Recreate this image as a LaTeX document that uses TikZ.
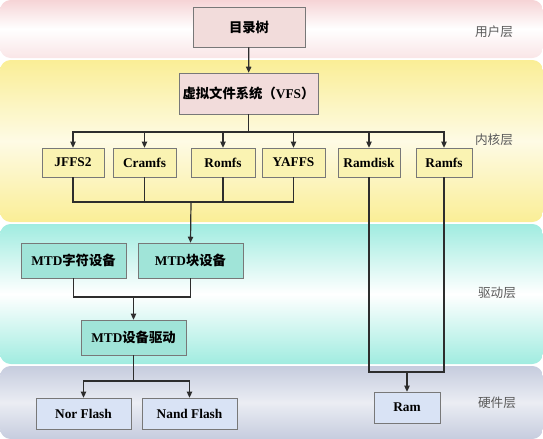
\documentclass[tikz,border=0pt]{standalone}
\usepackage{fontspec}
\setmainfont{Liberation Serif}
\newfontfamily\cjk{Noto Sans CJK SC}
\usetikzlibrary{arrows.meta, positioning}
\definecolor{linedark}{RGB}{45, 45, 45}
\definecolor{boxedge}{RGB}{120, 120, 120}
\definecolor{pinkbox}{RGB}{242, 220, 219}
\definecolor{yellowbox}{RGB}{250, 243, 178}
\definecolor{tealbox}{RGB}{160, 228, 216}
\definecolor{bluebox}{RGB}{217, 227, 245}
\definecolor{pinkband}{RGB}{246, 212, 214}
\definecolor{yellowband}{RGB}{250, 238, 150}
\definecolor{tealband}{RGB}{160, 236, 224}
\definecolor{grayband}{RGB}{198, 204, 222}
\definecolor{layertext}{RGB}{90, 90, 90}

\begin{document}
\begin{tikzpicture}[x=0.75pt, y=-0.75pt,
        box/.style={draw=boxedge, thin, inner sep=0pt, minimum height=21.75pt, align=center, font=\bfseries\fontsize{10}{12}\selectfont},
        band/.style={rounded corners=8pt},
        layername/.style={font=\cjk\fontsize{9.5}{11}\selectfont, text=layertext},
        arrow/.style={line width=0.9pt, -{Triangle[width=4pt, length=4.5pt]}, draw=linedark},
        link/.style={line width=0.9pt, draw=linedark}
    ]
        \useasboundingbox (0,0) rectangle (543,439);
        % layer bands
        \shade[band, top color=pinkband, bottom color=pinkband!60, middle color=white] (0,0) rectangle (543,58);
        \shade[band, top color=yellowband, bottom color=yellowband, middle color=yellowband!25] (0,60) rectangle (543,222);
        \shade[band, top color=tealband, bottom color=tealband, middle color=white] (0,224) rectangle (543,364);
        \shade[band, top color=grayband, bottom color=grayband, middle color=grayband!35] (0,366) rectangle (543,439);

        \node[layername] (user) at (494,32) {用户层};
        \node[layername] (kernel) at (494,140) {内核层};
        \node[layername] (driver) at (497,293) {驱动层};
        \node[layername] (hardware) at (497,403) {硬件层};

        % user and kernel
        \node[box, fill=pinkbox, minimum width=84pt, minimum height=30pt] (tree) at (249,27) {\cjk 目录树};
        \node[box, fill=pinkbox, minimum width=104.25pt, minimum height=30.75pt] (vfs) at (248.5,93.5) {{\cjk 虚拟文件系统（}VFS{\cjk ）}};
        \node[box, fill=yellowbox, minimum width=46.5pt] (jffs) at (73,162.5) {JFFS2};
        \node[box, fill=yellowbox, minimum width=47.25pt] (cramfs) at (144.5,162.5) {Cramfs};
        \node[box, fill=yellowbox, minimum width=48pt] (romfs) at (223,162.5) {Romfs};
        \node[box, fill=yellowbox, minimum width=47.25pt] (yaffs) at (293.5,162.5) {YAFFS};
        \node[box, fill=yellowbox, minimum width=46.5pt] (ramdisk) at (369,162.5) {Ramdisk};
        \node[box, fill=yellowbox, minimum width=42pt] (ramfs) at (444,162.5) {Ramfs};

        % driver
        \node[box, fill=tealbox, minimum width=78.75pt, minimum height=26.25pt] (mtdchr) at (73.5,260.5) {MTD{\cjk 字符设备}};
        \node[box, fill=tealbox, minimum width=78.75pt, minimum height=26.25pt] (mtdblk) at (190.5,260.5) {MTD{\cjk 块设备}};
        \node[box, fill=tealbox, minimum width=78.75pt, minimum height=26.25pt] (mtddrv) at (133.5,337.5) {MTD{\cjk 设备驱动}};

        % hardware
        \node[box, fill=bluebox, minimum width=71.25pt, minimum height=23.25pt] (norflash) at (83.5,413.5) {Nor Flash};
        \node[box, fill=bluebox, minimum width=71.25pt, minimum height=23.25pt] (nandflash) at (189.5,413.5) {Nand Flash};
        \node[box, fill=bluebox, minimum width=49.5pt, minimum height=23.25pt] (ram) at (407,407.5) {Ram};

        \coordinate (busK) at (248.5,132);
        \coordinate (mergeA) at (191,202);
        \coordinate (mergeB) at (133.5,297);
        \coordinate (splitF) at (133.5,381);
        \coordinate (mergeR) at (407,372);

        \draw[arrow] (tree) -- (vfs);
        \draw[link] (vfs.south) -- (busK);
        \foreach \fs in {jffs, cramfs, romfs, yaffs, ramdisk, ramfs}
            \draw[arrow] (busK) -| (\fs.north);
        \foreach \fs in {jffs, cramfs, romfs, yaffs}
            \draw[link] (\fs.south) |- (mergeA);
        \draw[arrow] (mergeA) -- (mtdblk.north);
        \draw[link] (mtdchr.south) |- (mergeB);
        \draw[link] (mtdblk.south) |- (mergeB);
        \draw[arrow] (mergeB) -- (mtddrv.north);
        \draw[link] (mtddrv.south) -- (splitF);
        \draw[arrow] (splitF) -| (norflash.north);
        \draw[arrow] (splitF) -| (nandflash.north);
        \draw[link] (ramdisk.south) |- (mergeR);
        \draw[link] (ramfs.south) |- (mergeR);
        \draw[arrow] (mergeR) -- (ram.north);
    \end{tikzpicture}
\end{document}
